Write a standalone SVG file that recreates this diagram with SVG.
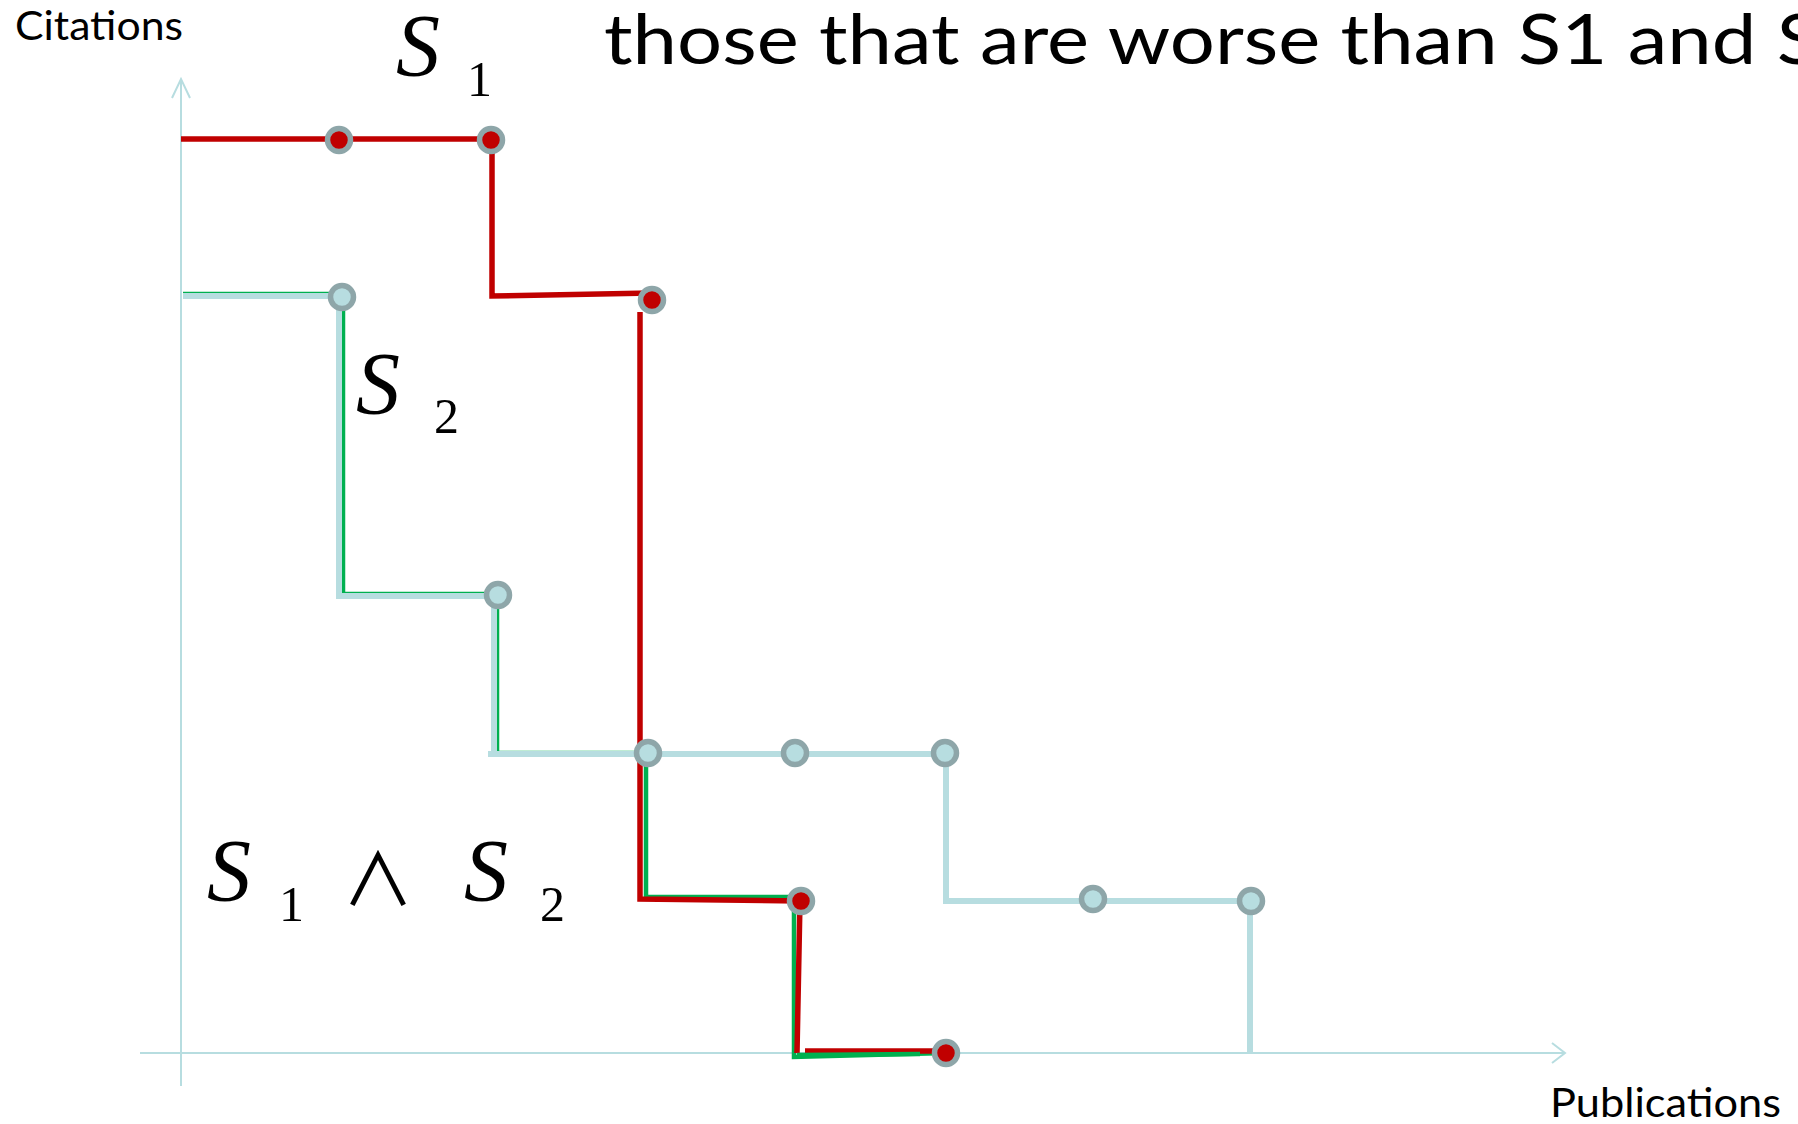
<svg xmlns="http://www.w3.org/2000/svg" width="1798" height="1124" viewBox="0 0 1798 1124">
<style>
.ax{stroke:#B7DDE0;stroke-width:2;fill:none}
.red{stroke:#C00000;stroke-width:5.5;fill:none;stroke-linejoin:miter}
.grn{stroke:#00B050;stroke-width:4.5;fill:none}
.lb{stroke:#B7DDE0;stroke-width:6;fill:none}
.pr{fill:#C00000;stroke:#8EA6A9;stroke-width:5.5}
.pb{fill:#B7DDE0;stroke:#8EA6A9;stroke-width:5.5}
.sans{font-family:Lato,"Liberation Sans",sans-serif;fill:#000}
.math{font-family:"Liberation Serif","DejaVu Serif",serif;fill:#000}
.it{font-style:italic}
.wedge{font-family:"Noto Sans CJK JP","DejaVu Sans",sans-serif;fill:#000}
</style>
<rect width="1798" height="1124" fill="#fff"/>
<g id="axes">
<line class="ax" x1="181" y1="1086" x2="181" y2="79"/>
<polyline class="ax" points="172,98 181,79 190,98"/>
<line class="ax" x1="140" y1="1053" x2="1564" y2="1053"/>
<polyline class="ax" points="1552,1043 1565,1053 1552,1063"/>
</g>
<g id="connectors">
<g id="intersection-green">
<polyline class="grn" points="183,294 340,294 343,300 343,594 497,594 497,753 646,753 646,897 797,897"/>
<polyline class="grn" points="794,897 794,1057 946,1053"/>
</g>
<g id="s2-lightblue">
<polyline class="lb" points="183,296 339,296 339,596 494,596 494,754 488,754"/>
<polyline class="lb" points="488,754 946,754 946,901 1250,901 1250,1053"/>
</g>
<g id="s1-red">
<polyline class="red" points="181,139 492,139 492,296 652,293"/>
<polyline class="red" points="640,312 640,899 800,901 797,1053"/>
<line class="red" x1="805" y1="1051" x2="946" y2="1051"/>
</g>
</g>
<g id="points">
<circle class="pb" cx="342" cy="297" r="11.5"/>
<circle class="pb" cx="498" cy="595" r="11.5"/>
<circle class="pb" cx="648" cy="753" r="11.5"/>
<circle class="pb" cx="795" cy="753" r="11.5"/>
<circle class="pb" cx="945" cy="753" r="11.5"/>
<circle class="pb" cx="1093" cy="899" r="11.5"/>
<circle class="pb" cx="1251" cy="901" r="11.5"/>
<circle class="pr" cx="339" cy="140" r="11.5"/>
<circle class="pr" cx="491" cy="140" r="11.5"/>
<circle class="pr" cx="652" cy="300" r="11.5"/>
<circle class="pr" cx="801" cy="901" r="11.5"/>
<circle class="pr" cx="946" cy="1053" r="11.5"/>
</g>
<line class="grn" x1="797" y1="1055" x2="920" y2="1054" stroke-width="5.5"/>
<g id="labels">
<text class="sans" x="15" y="40" font-size="41" textLength="168" lengthAdjust="spacingAndGlyphs">Citations</text>
<text class="sans" x="604" y="64" font-size="70" textLength="1216" lengthAdjust="spacingAndGlyphs">those that are worse than S1 and S</text>
<text class="sans" x="1550" y="1117" font-size="41" textLength="231" lengthAdjust="spacingAndGlyphs">Publications</text>
<text class="math it" x="396" y="75" font-size="88">S</text>
<text class="math" x="467" y="96" font-size="50">1</text>
<text class="math it" x="356" y="413" font-size="88">S</text>
<text class="math" x="434" y="433" font-size="50">2</text>
<text class="math it" x="207" y="900" font-size="88">S</text>
<text class="math" x="279" y="921" font-size="50">1</text>
<text class="wedge" x="378" y="905" font-size="72" text-anchor="middle">∧</text>
<text class="math it" x="464" y="900" font-size="88">S</text>
<text class="math" x="540" y="921" font-size="50">2</text>
</g>
</svg>
